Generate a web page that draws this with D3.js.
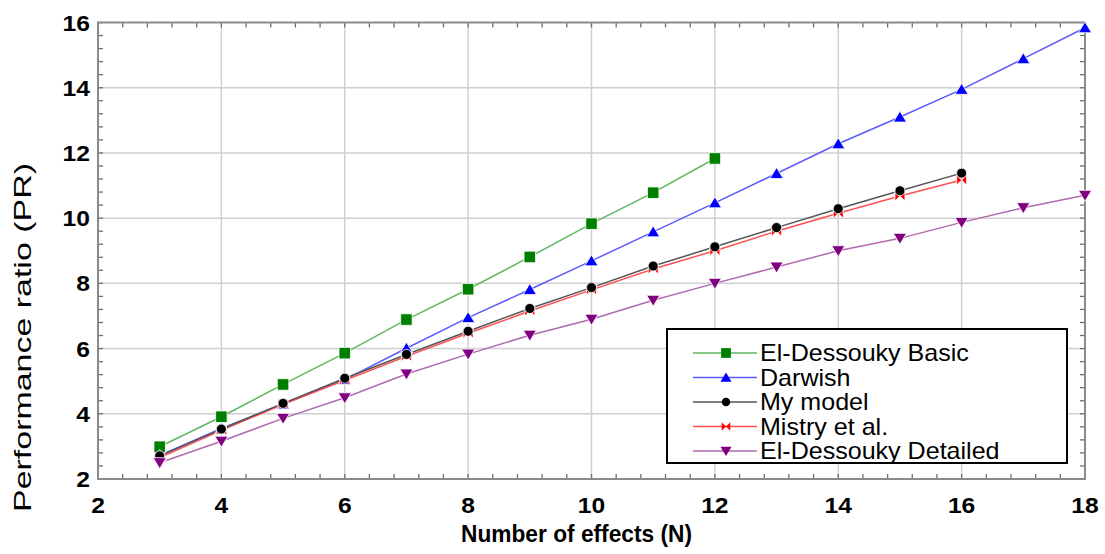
<!DOCTYPE html>
<html><head><meta charset="utf-8">
<script src="https://cdn.jsdelivr.net/npm/d3@7"></script>
<style>body{margin:0;background:#fff}svg{display:block}text{font-family:Arial,'Liberation Sans',sans-serif}</style>
</head><body>
<svg id="c" width="1105" height="554"></svg>
<script>
const seriesNames = ["El-Dessouky Basic","Darwish","My model","Mistry et al.","El-Dessouky Detailed"];
const xBasic = [3,4,5,6,7,8,9,10,11,12];
const basic = [2.99,3.91,4.90,5.86,6.89,7.82,8.81,9.83,10.78,11.83];
const xDarwish = [3,4,5,6,7,8,9,10,11,12,13,14,15,16,17,18];
const darwish = [2.72,3.55,4.30,5.05,6.01,6.95,7.81,8.69,9.58,10.47,11.37,12.28,13.10,13.95,14.89,15.84];
const xModel = [3,4,5,6,7,8,9,10,11,12,13,14,15,16];
const myModel = [2.71,3.53,4.32,5.09,5.82,6.53,7.23,7.87,8.53,9.12,9.71,10.29,10.84,11.38];
const xMistry = [3,4,5,6,7,8,9,10,11,12,13,14,15,16];
const mistry = [2.66,3.49,4.29,5.03,5.76,6.47,7.15,7.80,8.44,9.00,9.60,10.15,10.68,11.17];
const xDetailed = [3,4,5,6,7,8,9,10,11,12,13,14,15,16,17,18];
const detailed = [2.50,3.16,3.86,4.49,5.22,5.83,6.41,6.90,7.48,8.00,8.50,9.00,9.38,9.87,10.32,10.70];
const xTicks = [2,4,6,8,10,12,14,16,18];
const yTicks = [2,4,6,8,10,12,14,16];
const xTitle = "Number of effects (N)";
const yTitle = "Performance ratio (PR)";

const svg = d3.select("#c");
const L=98, R=1085, T=22.5, B=479;
const x = d3.scaleLinear().domain([2,18]).range([L,R]);
const y = d3.scaleLinear().domain([2,16]).range([B,T]);

// grid
const g = svg.append("g");
g.selectAll(".gx").data(xTicks.slice(1,-1)).join("line")
 .attr("x1",d=>x(d)).attr("x2",d=>x(d)).attr("y1",T).attr("y2",B)
 .attr("stroke","#cfcfcf").attr("stroke-width",1.5);
g.selectAll(".gy").data(yTicks.slice(1,-1)).join("line")
 .attr("y1",d=>y(d)).attr("y2",d=>y(d)).attr("x1",L).attr("x2",R)
 .attr("stroke","#cfcfcf").attr("stroke-width",1.5);

// minor ticks (inside, all four sides)
const xMinor = d3.range(2,18.001,0.4);
const yMinor = d3.range(2,16.001,0.4);
const tc="#6e6e6e";
g.selectAll(".tb").data(xMinor).join("line").attr("x1",d=>x(d)).attr("x2",d=>x(d)).attr("y1",B).attr("y2",B-5).attr("stroke",tc).attr("stroke-width",1.3);
g.selectAll(".tt").data(xMinor).join("line").attr("x1",d=>x(d)).attr("x2",d=>x(d)).attr("y1",T).attr("y2",T+5).attr("stroke",tc).attr("stroke-width",1.3);
g.selectAll(".tl").data(yMinor).join("line").attr("y1",d=>y(d)).attr("y2",d=>y(d)).attr("x1",L).attr("x2",L+5).attr("stroke",tc).attr("stroke-width",1.3);
g.selectAll(".tr").data(yMinor).join("line").attr("y1",d=>y(d)).attr("y2",d=>y(d)).attr("x1",R).attr("x2",R-5).attr("stroke",tc).attr("stroke-width",1.3);

// frame
svg.append("rect").attr("x",L).attr("y",T).attr("width",R-L).attr("height",B-T)
 .attr("fill","none").attr("stroke","#8a8a8a").attr("stroke-width",2);

// tick labels
svg.selectAll(".xl").data(xTicks).join("text")
 .attr("transform",d=>`translate(${x(d)},512.5) scale(1.12,1)`)
 .attr("text-anchor","middle").attr("font-size",22).attr("font-weight","bold").text(d=>d);
svg.selectAll(".yl").data(yTicks).join("text")
 .attr("transform",d=>`translate(90,${y(d)+8}) scale(1.12,1)`)
 .attr("text-anchor","end").attr("font-size",22).attr("font-weight","bold").text(d=>d);

// titles
svg.append("text").attr("x",461).attr("y",542).attr("font-size",23).attr("font-weight","bold")
 .attr("textLength",231).attr("lengthAdjust","spacingAndGlyphs").text(xTitle);
svg.append("text").attr("transform","translate(31,512) rotate(-90)").attr("font-size",24.5)
 .attr("textLength",349).attr("lengthAdjust","spacingAndGlyphs").text(yTitle);

// symbols
function sym(kind,size){
  if(kind==="square") return d3.symbol(d3.symbolSquare,size*size)();
  if(kind==="circle") return d3.symbol(d3.symbolCircle,Math.PI*size*size/4)();
  const h=size/2;
  if(kind==="up") return `M0,${-h*0.95}L${h*1.05},${h*0.8}L${-h*1.05},${h*0.8}Z`;
  if(kind==="down") return `M0,${h*0.95}L${h*1.05},${-h*0.8}L${-h*1.05},${-h*0.8}Z`;
  if(kind==="bowtie") return `M${-h},${-h}L0,0L${-h},${h}ZM${h},${-h}L0,0L${h},${h}Z`;
}
const series = [
 {name:seriesNames[0], xs:xBasic, ys:basic, color:"#007f00", line:"#5fb85f", kind:"square", size:11.5},
 {name:seriesNames[1], xs:xDarwish, ys:darwish, color:"#0000ff", line:"#5a5aff", kind:"up", size:12.5},
 {name:seriesNames[3], xs:xMistry, ys:mistry, color:"#ff0000", line:"#ff5050", kind:"bowtie", size:10},
 {name:seriesNames[2], xs:xModel, ys:myModel, color:"#000000", line:"#555555", kind:"circle", size:10},
 {name:seriesNames[4], xs:xDetailed, ys:detailed, color:"#800080", line:"#b06ab0", kind:"down", size:12.5},
];
const line = d3.line().x(d=>x(d[0])).y(d=>y(d[1]));
series.forEach(s=>{
  const pts = s.xs.map((v,i)=>[v,s.ys[i]]);
  svg.append("path").attr("d",line(pts)).attr("fill","none").attr("stroke",s.line).attr("stroke-width",1.5);
});
series.forEach(s=>{
  const pts = s.xs.map((v,i)=>[v,s.ys[i]]);
  svg.append("g").selectAll("path").data(pts).join("path")
   .attr("transform",d=>`translate(${x(d[0])},${y(d[1])})`)
   .attr("d",sym(s.kind,s.size)).attr("fill",s.color).attr("stroke","#fff").attr("stroke-width",0.8);
});

// legend
const lg = svg.append("g");
lg.append("rect").attr("x",667).attr("y",329).attr("width",400).attr("height",134)
 .attr("fill","#fff").attr("stroke","#000").attr("stroke-width",2);
const legendOrder = [0,1,3,2,4];
legendOrder.forEach((si,i)=>{
  const s = series[si];
  const cy = 353 + i*24.5;
  lg.append("line").attr("x1",693).attr("x2",757).attr("y1",cy).attr("y2",cy).attr("stroke",s.line).attr("stroke-width",1.5);
  lg.append("path").attr("transform",`translate(726,${cy})`).attr("d",sym(s.kind,s.size*0.85)).attr("fill",s.color);
  lg.append("text").attr("transform",`translate(760,${cy+8}) scale(1.09,1)`).attr("font-size",23).text(s.name);
});
</script>
</body></html>
